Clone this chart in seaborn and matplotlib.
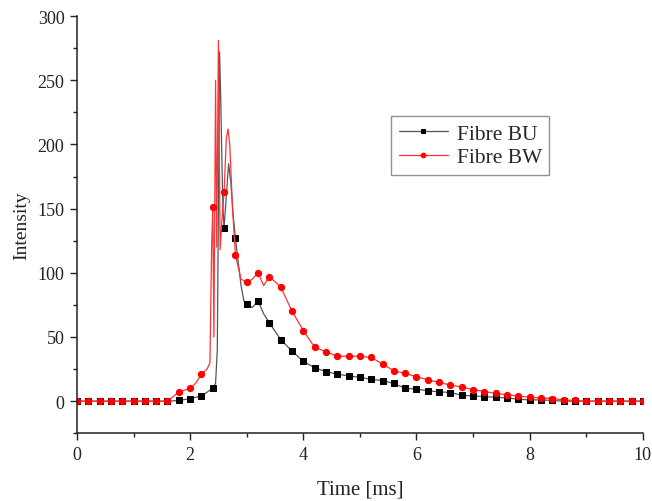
import numpy as np
import pandas as pd
import seaborn as sns
import matplotlib
matplotlib.use("Agg")
import matplotlib.pyplot as plt
from matplotlib.ticker import MultipleLocator

# ---- data ----
time_bu = [0.0, 0.2, 0.4, 0.6, 0.8, 1.0, 1.2, 1.4, 1.6, 1.8, 2.0, 2.2, 2.4,
           2.45, 2.48, 2.50, 2.52, 2.54, 2.56, 2.58, 2.6, 2.64, 2.68, 2.72, 2.76,
           2.8, 2.9, 2.95, 3.0, 3.1, 3.2, 3.3, 3.4, 3.6, 3.8, 4.0, 4.2, 4.4, 4.6,
           4.8, 5.0, 5.2, 5.4, 5.6, 5.8, 6.0, 6.2, 6.4, 6.6, 6.8, 7.0, 7.2, 7.4,
           7.6, 7.8, 8.0, 8.2, 8.4, 8.6, 8.8, 9.0, 9.2, 9.4, 9.6, 9.8, 10.0]
int_bu = [0, 0, 0, 0, 0, 0, 0, 0, 0, 0.5, 2, 4, 10,
          14, 40, 150, 272, 238, 190, 150, 135, 160, 185, 170, 145,
          127, 90, 78, 76, 73, 78, 68, 61, 48, 39, 31, 26, 23, 21,
          19.7, 18.5, 17, 16, 13.8, 10, 9.4, 8, 7.3, 6.7, 4.5, 4.1, 3.5, 3,
          2.5, 1.5, 1, 1, 0.5, 0, 0, 0, 0, 0, 0, 0, 0]

time_bw = [0.0, 0.2, 0.4, 0.6, 0.8, 1.0, 1.2, 1.4, 1.6, 1.8, 2.0, 2.1, 2.2,
           2.3, 2.35, 2.38, 2.4, 2.42, 2.45, 2.47, 2.50, 2.53, 2.56, 2.6, 2.64,
           2.67, 2.70, 2.75, 2.8, 2.9, 3.0, 3.1, 3.2, 3.3, 3.4, 3.6, 3.8, 4.0,
           4.2, 4.4, 4.6, 4.8, 5.0, 5.2, 5.4, 5.6, 5.8, 6.0, 6.2, 6.4, 6.6, 6.8,
           7.0, 7.2, 7.4, 7.6, 7.8, 8.0, 8.2, 8.4, 8.6, 8.8, 9.0, 9.2, 9.4, 9.6,
           9.8, 10.0]
int_bw = [0, 0, 0, 0, 0, 0, 0, 0, 0, 7, 10, 14, 21,
          25, 30, 120, 151, 50, 250, 120, 281, 118, 140, 163, 205,
          212, 200, 150, 114, 95, 92.5, 95, 100, 90, 97, 89, 70, 55,
          42, 38.5, 35, 35, 35, 34, 29, 23.6, 21.6, 19, 16.6, 14.6, 12.5, 11,
          9, 7.5, 6, 5, 4, 3, 2.5, 2, 1, 0.5, 0, 0, 0, 0,
          0, 0]

x_ticks = [0, 2, 4, 6, 8, 10]
y_ticks = [0, 50, 100, 150, 200, 250, 300]


def grid_idx(t):
    return [i for i, v in enumerate(t) if abs(v * 5 - round(v * 5)) < 1e-6]


sns.set_theme(style="white")
plt.rcParams["font.family"] = ["Liberation Serif", "DejaVu Serif"]

fig, ax = plt.subplots(figsize=(6.52, 5.02), dpi=100)
fig.subplots_adjust(left=0.118, right=0.986, top=0.966, bottom=0.135)

df_bu = pd.DataFrame({"t": time_bu, "y": int_bu})
df_bw = pd.DataFrame({"t": time_bw, "y": int_bw})

sns.lineplot(data=df_bu, x="t", y="y", ax=ax, color="#555555", linewidth=0.9,
             marker="s", markersize=4.2, markerfacecolor="black",
             markeredgecolor="black", markevery=grid_idx(time_bu),
             label="Fibre BU", sort=False)
sns.lineplot(data=df_bw, x="t", y="y", ax=ax, color="#ff3333", linewidth=0.9,
             marker="o", markersize=4.5, markerfacecolor="red",
             markeredgecolor="red", markevery=grid_idx(time_bw),
             label="Fibre BW", sort=False)

ax.set_xlim(0, 10)
ax.set_ylim(-25, 300)
ax.set_xticks(x_ticks)
ax.set_yticks(y_ticks)
ax.xaxis.set_minor_locator(MultipleLocator(1))
ax.yaxis.set_minor_locator(MultipleLocator(25))
ax.tick_params(which="major", direction="out", length=5, width=1, colors="#222222",
               labelsize=13, bottom=True, left=True, pad=4)
ax.tick_params(which="minor", direction="out", length=3, width=1, colors="#222222",
               bottom=True, left=True)
for s in ["top", "right"]:
    ax.spines[s].set_visible(False)
for s in ["left", "bottom"]:
    ax.spines[s].set_color("#222222")
    ax.spines[s].set_linewidth(1.1)

ax.set_xlabel("Time [ms]", fontsize=15, labelpad=12, color="#222222")
ax.set_ylabel("Intensity", fontsize=14, labelpad=5, color="#222222")

leg = ax.legend(loc="upper left", bbox_to_anchor=(0.555, 0.760), fontsize=15.5,
                frameon=True, fancybox=False, edgecolor="#777777",
                handlelength=2.3, borderpad=0.35, labelspacing=0.15,
                handletextpad=0.4, borderaxespad=0, markerscale=0.75)
leg.get_frame().set_linewidth(1.0)

fig.savefig("out.png", dpi=100)
